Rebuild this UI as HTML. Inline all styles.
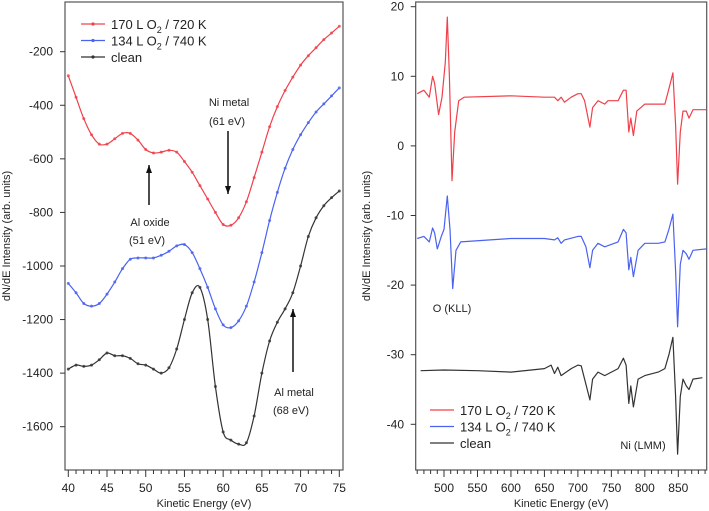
<!DOCTYPE html>
<html><head><meta charset="utf-8"><style>
html,body{margin:0;padding:0;background:#fff;}
svg{display:block;font-family:"Liberation Sans",sans-serif;}
</style></head><body>
<svg id="c" width="709" height="511" viewBox="0 0 709 511">
<g id="L"></g>
<g id="R"></g>
</svg>
<script>
// ---- Left panel data ----
const leftX = [40,41,42,43,44,45,46,47,48,49,50,51,52,53,54,55,56,57,58,59,60,61,62,63,64,65,66,67,68,69,70,71,72,73,74,75];
const leftRed = [-290,-370,-450,-510,-545,-545,-525,-505,-505,-530,-565,-578,-575,-568,-575,-610,-650,-700,-750,-800,-845,-848,-820,-760,-670,-575,-480,-405,-345,-295,-250,-215,-185,-155,-130,-105];
const leftBlue = [-1065,-1100,-1140,-1150,-1140,-1105,-1060,-1010,-975,-970,-970,-970,-960,-945,-925,-920,-950,-1010,-1080,-1160,-1220,-1230,-1205,-1150,-1060,-950,-830,-725,-635,-565,-510,-465,-425,-395,-365,-335];
const leftBlack = [-1385,-1370,-1375,-1370,-1350,-1325,-1335,-1335,-1345,-1365,-1370,-1385,-1400,-1380,-1310,-1200,-1100,-1080,-1200,-1450,-1620,-1650,-1665,-1660,-1560,-1400,-1280,-1210,-1160,-1100,-1000,-890,-820,-775,-745,-720];
const leftYTicks = [-200,-400,-600,-800,-1000,-1200,-1400,-1600];
const leftXTicks = [40,45,50,55,60,65,70,75];
// ---- Right panel data ----
const redX = [460,470,478,483,486,492,497,502,505,508,512,516,522,530,600,650,665,670,675,680,690,700,705,710,718,722,730,740,745,760,768,772,776,779,783,788,800,820,830,838,842,846,849,853,857,862,866,872,892];
const redY = [7.5,8,7,10,9,4.5,7,12,18.5,10,-5,2,6.5,7,7.2,7,7,6.5,7,6.3,7,7.5,7.5,6.5,2.7,5.5,6.5,6,6.5,6.5,8,8,2,4,1.5,5,6,6,6,9,10.5,3,-5.5,2,5,5,4,5.2,5.2];
const blueX = [460,470,478,483,486,490,496,500,505,509,513,518,525,600,650,665,670,675,680,700,705,712,718,722,730,740,760,768,772,776,779,783,790,800,820,830,836,842,846,849,853,857,862,866,872,892];
const blueY = [-13.3,-13,-13.8,-11.8,-12.5,-14.8,-13,-12,-7.2,-12,-20.5,-15,-13.8,-13.3,-13.3,-13.5,-13.2,-14,-13.5,-13,-13,-14.5,-17.5,-15,-14,-14.5,-13.8,-12,-12.5,-17.8,-16,-18.8,-15,-14,-14,-13.8,-12,-9.8,-18,-26,-17,-15,-15.5,-16.3,-15,-14.8];
const blackX = [465,500,550,600,650,660,665,670,675,690,700,705,710,718,722,730,740,760,768,772,776,779,783,790,800,820,830,836,842,846,849,853,857,862,866,872,886];
const blackY = [-32.3,-32.2,-32.3,-32.5,-32,-31.5,-32.7,-31.8,-33,-32,-31.5,-31.6,-33.5,-36.5,-33.5,-32.5,-33,-32,-30.5,-31.5,-37,-34.5,-37.5,-33.5,-33,-32.5,-32,-30,-27.5,-36,-44.3,-36,-33.5,-34.5,-35,-33.5,-33.3];
const rightYTicks = [20,10,0,-10,-20,-30,-40];
const rightXTicks = [500,550,600,650,700,750,800,850];
const legendLabels = [["170 L O","2"," / 720 K"],["134 L O","2"," / 740 K"],["clean","",""]];
const colors = ["#f0404a","#4a62f0","#333333"];

const NS="http://www.w3.org/2000/svg";
function mk(parent,tag,attrs,text){const e=document.createElementNS(NS,tag);for(const k in attrs)e.setAttribute(k,attrs[k]);if(text!==undefined)e.textContent=text;parent.appendChild(e);return e;}

const lx=v=>68.3+(v-40)*(339.3-68.3)/35;
const ly=v=>51.7+(-200-v)*(426.7-51.7)/1400;
const rx=v=>444+(v-500)*(678.3-444)/350;
const ry=v=>6.7+(20-v)*(424.3-6.7)/60;

function panel(g,x0,x1,yTicks,ly_,labelX,minorTicks,majorSet,xf,ylabX,nameP){
  const fr=mk(g,'rect',{x:x0,y:2,width:x1-x0,height:468,fill:'none',stroke:'#555','stroke-width':1.2});
  
  yTicks.forEach(t=>{const y=ly_(t);
    const l=mk(g,'line',{x1:x0-5,x2:x0,y1:y,y2:y,stroke:'#333'});
    
    const tx=mk(g,'text',{x:labelX,y:y+4,'text-anchor':'end','font-size':12,fill:'#222'},String(t));
    });
  minorTicks.forEach(t=>{const x=xf(t);const maj=majorSet.includes(t);
    const l=mk(g,'line',{x1:x,x2:x,y1:470,y2:maj?477:474,stroke:'#333'});
    
    if(maj){const tx=mk(g,'text',{x:x,y:492,'text-anchor':'middle','font-size':12,fill:'#222'},String(t));
      }});
  const xt=mk(g,'text',{x:(x0+x1)/2,y:507,'text-anchor':'middle','font-size':11,fill:'#222'},'Kinetic Energy (eV)');
  
  const yt=mk(g,'text',{x:0,y:0,transform:`translate(${ylabX},236) rotate(-90)`,'text-anchor':'middle','font-size':11,fill:'#222'},'dN/dE Intensity (arb. units)');
  
}
const L=document.getElementById('L'),R=document.getElementById('R');
const lminor=[];for(let v=40;v<=75;v++)lminor.push(v);
panel(L,65,343,leftYTicks,ly,53,lminor,leftXTicks,lx,10,'left');
const rminor=[];for(let v=460;v<=890;v+=10)rminor.push(v);
panel(R,415.7,706.7,rightYTicks,ry,404,rminor,rightXTicks,rx,370,'right');

function smoothPath(P){
  let d='M'+P[0][0].toFixed(1)+' '+P[0][1].toFixed(1);
  for(let i=0;i<P.length-1;i++){
    const p0=P[Math.max(0,i-1)],p1=P[i],p2=P[i+1],p3=P[Math.min(P.length-1,i+2)];
    const c1=[p1[0]+(p2[0]-p0[0])/6,p1[1]+(p2[1]-p0[1])/6];
    const c2=[p2[0]-(p3[0]-p1[0])/6,p2[1]-(p3[1]-p1[1])/6];
    d+=` C${c1[0].toFixed(1)} ${c1[1].toFixed(1)} ${c2[0].toFixed(1)} ${c2[1].toFixed(1)} ${p2[0].toFixed(1)} ${p2[1].toFixed(1)}`;
  }
  return d;
}
function series(g,xs,ys,xf,yf,col,markers,name){
  const P=xs.map((x,i)=>[xf(x),yf(ys[i])]);
  const d=markers?smoothPath(P):P.map((p,i)=>(i?'L':'M')+p[0].toFixed(1)+' '+p[1].toFixed(1)).join(' ');
  const p=mk(g,'path',{d:d,fill:'none',stroke:col,'stroke-width':1.2,'stroke-linejoin':'round'});
  
  if(markers)xs.forEach((x,i)=>{const c=mk(g,'circle',{cx:xf(x),cy:yf(ys[i]),r:1.5,fill:col,opacity:0.8});
    });
}
series(L,leftX,leftRed,lx,ly,colors[0],true,'left-170L');
series(L,leftX,leftBlue,lx,ly,colors[1],true,'left-134L');
series(L,leftX,leftBlack,lx,ly,colors[2],true,'left-clean');
series(R,redX,redY,rx,ry,colors[0],false,'right-170L');
series(R,blueX,blueY,rx,ry,colors[1],false,'right-134L');
series(R,blackX,blackY,rx,ry,colors[2],false,'right-clean');

function legend(g,x,y0,dy,markers,name){
  legendLabels.forEach((lab,i)=>{const y=y0+i*dy;
    const l=mk(g,'line',{x1:x,x2:x+24,y1:y,y2:y,stroke:colors[i],'stroke-width':1.3});
    
    if(markers){const c=mk(g,'circle',{cx:x+12,cy:y,r:1.6,fill:colors[i]});}
    const t=mk(g,'text',{x:x+30,y:y+5,'font-size':13,fill:'#222'});
    
    t.appendChild(document.createTextNode(lab[0]));
    if(lab[1]){mk(t,'tspan',{'font-size':9,dy:4},lab[1]);mk(t,'tspan',{dy:-4},lab[2]);}
  });
}
legend(L,81,24,16.5,true,'left');
legend(R,430,410,16.5,false,'right');

function note(g,x,y,txt,name){const t=mk(g,'text',{x:x,y:y,'text-anchor':'middle','font-size':11,fill:'#222'},txt);}
function arrow(g,x,yFrom,yTo,name){
  const l=mk(g,'line',{x1:x,x2:x,y1:yFrom,y2:yTo,stroke:'#111','stroke-width':1.5});
  
  const s=yTo>yFrom?1:-1;
  const p=mk(g,'path',{d:`M${x-3} ${yTo-s*8} L${x+3} ${yTo-s*8} L${x} ${yTo} Z`,fill:'#111'});
  
}
note(L,229,106,'Ni metal','ni-metal-label');
note(L,227,125,'(61 eV)','ni-metal-energy-label');
arrow(L,228,131,194,'ni-metal-arrow');
arrow(L,149,205,165,'al-oxide-arrow');
note(L,150,226,'Al oxide','al-oxide-label');
note(L,147,244,'(51 eV)','al-oxide-energy-label');
arrow(L,293,372,309,'al-metal-arrow');
note(L,294,396,'Al metal','al-metal-label');
note(L,291,414,'(68 eV)','al-metal-energy-label');
note(R,452,312,'O (KLL)','o-kll-label');
note(R,643,449,'Ni (LMM)','ni-lmm-label');
</script>
</body></html>
